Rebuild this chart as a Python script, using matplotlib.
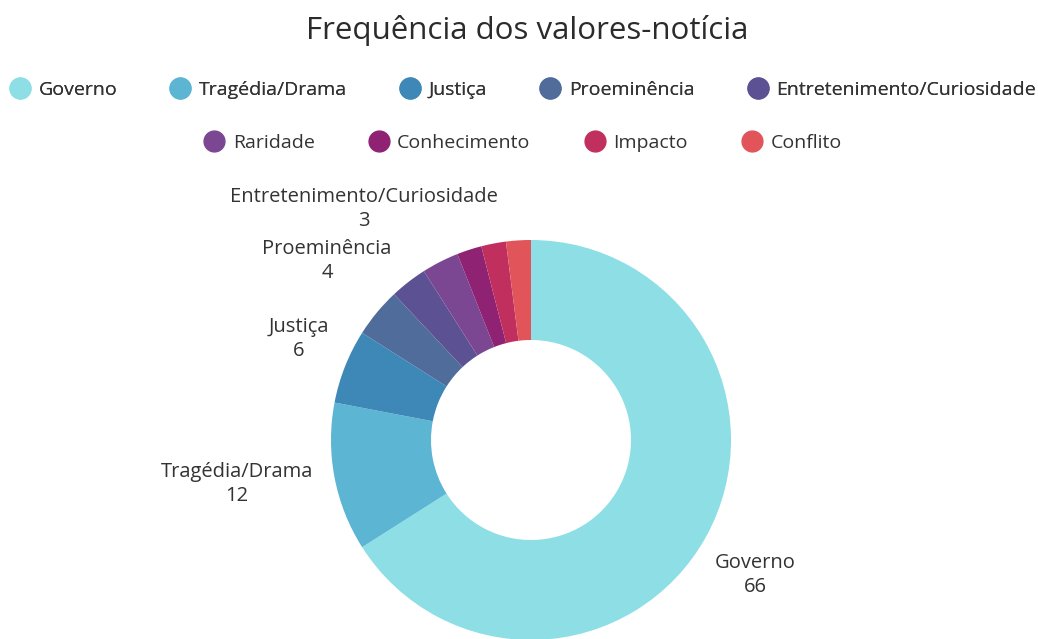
import matplotlib.pyplot as plt
from matplotlib.lines import Line2D

plt.rcParams['font.family'] = ['Open Sans', 'DejaVu Sans']

# data
categories = ['Governo', 'Tragédia/Drama', 'Justiça', 'Proeminência',
              'Entretenimento/Curiosidade', 'Raridade', 'Conhecimento',
              'Impacto', 'Conflito']
values = [66, 12, 6, 4, 3, 3, 2, 2, 2]
colors = ['#8ddfe5', '#5bb5d3', '#3e88b8', '#4f6c9b', '#5c5193',
          '#7b4793', '#8f2273', '#c12f5e', '#e1555a']

W, H = 1038, 639
fig = plt.figure(figsize=(W / 100, H / 100), dpi=100)
ax = fig.add_axes([0, 0, 1, 1])

cx, cy, R = 531, 199, 200
ax.pie(values, colors=colors, startangle=90, counterclock=False,
       radius=R, center=(cx, cy), frame=True,
       wedgeprops=dict(width=R / 2, linewidth=0))
ax.set_xlim(0, W)
ax.set_ylim(0, H)
ax.set_aspect('equal')
ax.axis('off')

# outside labels (pixel positions of the text blocks)
label_pos = {
    'Governo': (755, 64),
    'Tragédia/Drama': (237, 155),
    'Justiça': (299, 300),
    'Proeminência': (327, 378),
    'Entretenimento/Curiosidade': (364, 430),
}
for cat, val in zip(categories, values):
    if cat in label_pos:
        x, y = label_pos[cat]
        ax.text(x, y, f'{cat}\n{val}', ha='center', va='center',
                fontsize=14.5, color='#333333', linespacing=1.25)

fig.text(0.508, 1 - 30 / H, 'Frequência dos valores-notícia', ha='center',
         va='center', fontsize=22.5, color='#2b2b2b')

# legend in two centred rows
handles = [Line2D([], [], marker='o', linestyle='', markersize=15,
                  markerfacecolor=c, markeredgecolor=c) for c in colors]
leg1 = fig.legend(handles[:5], categories[:5], loc='center',
                  bbox_to_anchor=(0.503, 1 - 90 / H), ncol=5, frameon=False,
                  fontsize=14, handletextpad=0.35, columnspacing=2.65,
                  handlelength=1.2, labelcolor='#333333')
fig.add_artist(leg1)
fig.legend(handles[5:], categories[5:], loc='center',
           bbox_to_anchor=(0.503, 1 - 143 / H), ncol=4, frameon=False,
           fontsize=14, handletextpad=0.35, columnspacing=2.7,
           handlelength=1.2, labelcolor='#333333')

fig.savefig('out.png', dpi=100, facecolor='white')
